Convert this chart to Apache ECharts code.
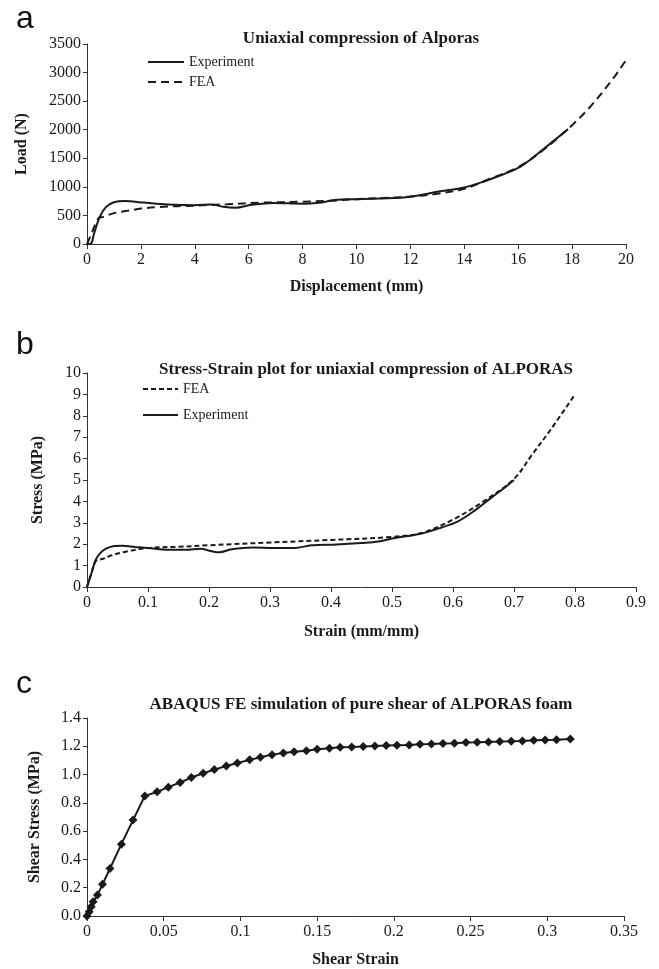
<!DOCTYPE html>
<html>
<head>
<meta charset="utf-8">
<script src="https://cdn.jsdelivr.net/npm/echarts@6/dist/echarts.min.js"></script>
<style>
  html, body { margin: 0; padding: 0; background: #fff; }
  #main { width: 659px; height: 969px; }
</style>
</head>
<body>
<div id="main"></div>
<script>
// panel a: load vs displacement
let aExpX = [0, 0.15, 0.26, 0.47, 0.7, 1.0, 1.4, 2.1, 3.0, 4.0, 4.6, 5.05, 5.5, 6.1, 6.9, 8.0, 8.6, 9.2, 10, 11.6, 12.3, 13.1, 13.9, 14.7, 15.45, 16.1, 16.7, 17.3, 17.85];
let aExpY = [0, 10, 180, 470, 645, 730, 752, 725, 692, 680, 693, 652, 635, 685, 718, 705, 720, 770, 785, 810, 850, 925, 980, 1090, 1220, 1360, 1570, 1800, 2010];
let aFeaX = [0, 0.17, 0.42, 0.6, 1.0, 1.5, 2.0, 2.7, 4.0, 5.2, 6.4, 8.0, 9.0, 10, 11, 12, 13, 14, 15, 16, 17, 18, 18.6, 19.5, 20];
let aFeaY = [0, 185, 450, 475, 540, 580, 620, 648, 672, 695, 722, 740, 755, 785, 805, 830, 880, 965, 1150, 1345, 1670, 2080, 2365, 2880, 3220];

// panel b: stress vs strain
let bExpX = [0, 0.007, 0.014, 0.021, 0.031, 0.045, 0.058, 0.079, 0.1, 0.134, 0.162, 0.186, 0.203, 0.217, 0.237, 0.272, 0.306, 0.34, 0.368, 0.409, 0.45, 0.478, 0.505, 0.547, 0.58, 0.609, 0.636, 0.664, 0.684, 0.7];
let bExpY = [0, 0.62, 1.25, 1.56, 1.79, 1.92, 1.93, 1.87, 1.82, 1.74, 1.74, 1.79, 1.68, 1.62, 1.76, 1.84, 1.82, 1.82, 1.95, 1.99, 2.06, 2.13, 2.29, 2.49, 2.77, 3.08, 3.58, 4.2, 4.63, 5.0];
let bFeaX = [0, 0.007, 0.014, 0.02, 0.031, 0.038, 0.065, 0.1, 0.15, 0.2, 0.3, 0.4, 0.5, 0.55, 0.6, 0.65, 0.7, 0.73, 0.76, 0.8];
let bFeaY = [0, 0.62, 1.2, 1.27, 1.36, 1.46, 1.66, 1.82, 1.88, 1.95, 2.08, 2.2, 2.34, 2.54, 3.15, 4.0, 5.05, 6.2, 7.35, 9.0];

// panel c: shear stress vs shear strain
let cX = [0, 0.0014, 0.0027, 0.004, 0.0068, 0.0101, 0.015, 0.0224, 0.030, 0.0377, 0.0457, 0.053, 0.0607, 0.068, 0.0757, 0.083, 0.0908, 0.098, 0.106, 0.113, 0.1206, 0.128, 0.135, 0.143, 0.150, 0.158, 0.165, 0.1725, 0.180, 0.1876, 0.195, 0.202, 0.21, 0.217, 0.2245, 0.232, 0.2395, 0.247, 0.2543, 0.2617, 0.269, 0.2765, 0.2838, 0.2912, 0.2986, 0.306, 0.315];
let cY = [0, 0.03, 0.066, 0.1, 0.148, 0.224, 0.336, 0.508, 0.678, 0.849, 0.878, 0.911, 0.944, 0.979, 1.009, 1.035, 1.061, 1.082, 1.104, 1.122, 1.141, 1.153, 1.162, 1.169, 1.179, 1.186, 1.193, 1.195, 1.198, 1.202, 1.205, 1.207, 1.209, 1.214, 1.216, 1.219, 1.221, 1.226, 1.228, 1.231, 1.233, 1.235, 1.238, 1.242, 1.245, 1.247, 1.252];

function pairs(xs, ys) {
  return xs.map(function (x, i) { return [x, ys[i]]; });
}

let serif = "Liberation Serif";
let ink = "#1a1a1a";

function xAx(idx, max, step, name, gap) {
  return {
    gridIndex: idx, type: "value", min: 0, max: max, interval: step,
    name: name, nameLocation: "middle", nameGap: gap,
    nameTextStyle: { fontFamily: serif, fontSize: 16, fontWeight: "bold", color: ink },
    axisLine: { onZero: false, lineStyle: { color: "#333", width: 1 } },
    axisTick: { show: true, inside: false, length: 5, lineStyle: { color: "#333" } },
    axisLabel: { fontFamily: serif, fontSize: 16, color: ink, margin: 8 },
    splitLine: { show: false },
  };
}

function yAx(idx, max, step, name, gap, fmt) {
  return {
    gridIndex: idx, type: "value", min: 0, max: max, interval: step,
    name: name, nameLocation: "middle", nameGap: gap, nameRotate: 90,
    nameTextStyle: { fontFamily: serif, fontSize: 16, fontWeight: "bold", color: ink },
    axisLine: { show: true, onZero: false, lineStyle: { color: "#333", width: 1 } },
    axisTick: { show: true, inside: false, length: 4, lineStyle: { color: "#333" } },
    axisLabel: { fontFamily: serif, fontSize: 16, color: ink, margin: 6, formatter: fmt },
    splitLine: { show: false },
  };
}

function head(text, x, y) {
  return {
    text: text, left: x, top: y, textAlign: "center",
    textStyle: { fontFamily: serif, fontSize: 17, fontWeight: "bold", color: ink },
  };
}

function letter(text, y) {
  return {
    text: text, left: 11, top: y,
    textStyle: { fontFamily: "Liberation Sans", fontSize: 32, fontWeight: "normal", color: "#111" },
  };
}

let myChart = echarts.init(document.getElementById("main"));

let plain = function (v) { return String(v); };

let option = {
  animation: false,
  backgroundColor: "#fff",
  title: [
    letter("a", -2),
    letter("b", 324),
    letter("c", 663),
    head("Uniaxial compression of Alporas", 356, 25),
    head("Stress-Strain plot for uniaxial compression of ALPORAS", 361, 356),
    head("ABAQUS FE simulation of pure shear of ALPORAS foam", 356, 691),
  ],
  legend: [
    {
      data: ["Experiment", "FEA"], orient: "vertical", left: 147, top: 55, padding: 0,
      itemWidth: 36, itemHeight: 14, itemGap: 6,
      itemStyle: { opacity: 0 },
      textStyle: { fontFamily: serif, fontSize: 14, color: ink },
      selectedMode: false,
    },
    {
      data: ["FEA ", "Experiment "], orient: "vertical", left: 142, top: 382, padding: 0,
      itemWidth: 35, itemHeight: 14, itemGap: 12,
      itemStyle: { opacity: 0 },
      textStyle: { fontFamily: serif, fontSize: 14, color: ink },
      formatter: function (n) { return n.trim(); },
      selectedMode: false,
    },
  ],
  grid: [
    { left: 87, top: 44, width: 539, height: 200 },
    { left: 87, top: 373, width: 549, height: 214 },
    { left: 87, top: 718, width: 537, height: 198 },
  ],
  xAxis: [
    xAx(0, 20, 2, "Displacement (mm)", 35),
    xAx(1, 0.9, 0.1, "Strain (mm/mm)", 37),
    xAx(2, 0.35, 0.05, "Shear Strain", 36),
  ],
  yAxis: [
    yAx(0, 3500, 500, "Load (N)", 57, plain),
    yAx(1, 10, 1, "Stress (MPa)", 41, plain),
    yAx(2, 1.4, 0.2, "Shear Stress (MPa)", 44, function (v) { return v.toFixed(1); }),
  ],
  series: [
    {
      name: "Experiment", type: "line", xAxisIndex: 0, yAxisIndex: 0,
      data: pairs(aExpX, aExpY), showSymbol: false, symbol: "none", smooth: 0.35,
      lineStyle: { color: ink, width: 2 }, itemStyle: { color: ink },
    },
    {
      name: "FEA", type: "line", xAxisIndex: 0, yAxisIndex: 0,
      data: pairs(aFeaX, aFeaY), showSymbol: false, symbol: "none", smooth: 0.35,
      lineStyle: { color: ink, width: 2, type: [8, 5] }, itemStyle: { color: ink },
    },
    {
      name: "FEA ", type: "line", xAxisIndex: 1, yAxisIndex: 1,
      data: pairs(bFeaX, bFeaY), showSymbol: false, symbol: "none", smooth: 0.35,
      lineStyle: { color: ink, width: 2, type: [5, 3] }, itemStyle: { color: ink },
    },
    {
      name: "Experiment ", type: "line", xAxisIndex: 1, yAxisIndex: 1,
      data: pairs(bExpX, bExpY), showSymbol: false, symbol: "none", smooth: 0.35,
      lineStyle: { color: ink, width: 2 }, itemStyle: { color: ink },
    },
    {
      name: "Shear", type: "line", xAxisIndex: 2, yAxisIndex: 2,
      data: pairs(cX, cY), symbol: "diamond", symbolSize: 9, showSymbol: true,
      lineStyle: { color: ink, width: 2 }, itemStyle: { color: ink },
    },
  ],
};

myChart.setOption(option);
</script>
</body>
</html>
